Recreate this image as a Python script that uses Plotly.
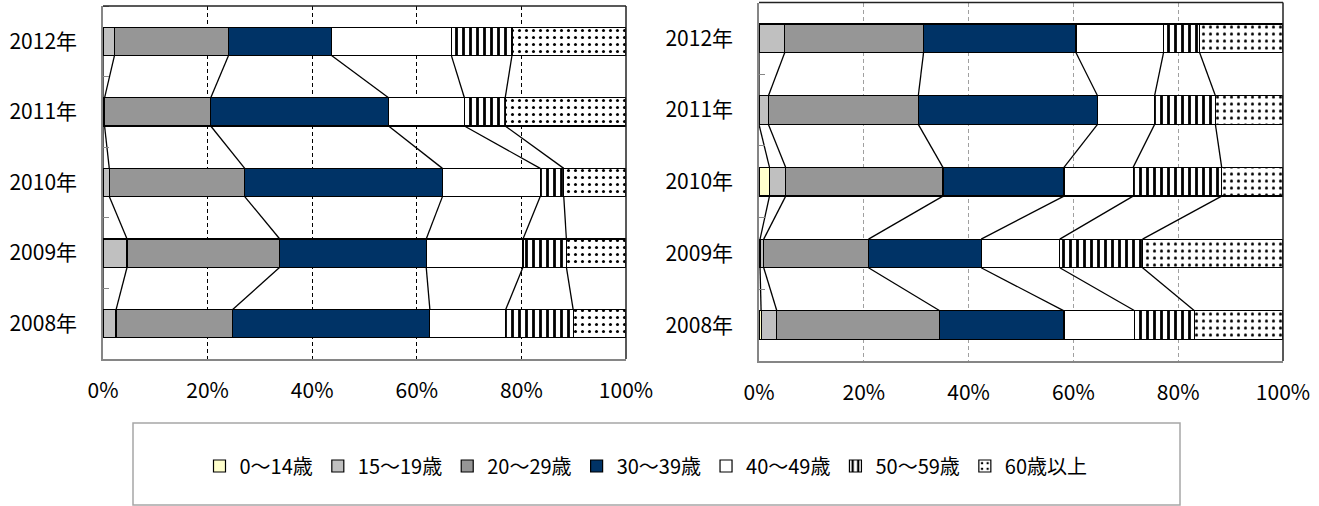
import plotly.graph_objects as go

W, H = 1319, 506

years = ["2008年", "2009年", "2010年", "2011年", "2012年"]
groups = ["0～14歳", "15～19歳", "20～29歳", "30～39歳", "40～49歳", "50～59歳", "60歳以上"]

# values per age group, listed 2008..2012 (percent)
left_0_14 = [0, 0, 0, 0, 0]
left_15_19 = [2.5, 4.6, 1.2, 0.3, 2.2]
left_20_29 = [22.3, 29.2, 25.9, 20.3, 21.8]
left_30_39 = [37.7, 28.0, 37.8, 34.0, 19.7]
left_40_49 = [14.5, 18.5, 18.7, 14.5, 22.9]
left_50_59 = [12.9, 8.3, 4.5, 7.8, 11.6]
left_60p = [10.1, 11.4, 11.9, 23.1, 21.8]

right_0_14 = [0.4, 0.2, 2.0, 0, 0]
right_15_19 = [3.0, 0.7, 3.1, 1.8, 4.9]
right_20_29 = [31.1, 20.0, 30.0, 28.6, 26.5]
right_30_39 = [23.7, 21.5, 23.1, 34.2, 29.1]
right_40_49 = [13.5, 15.0, 13.2, 10.9, 16.7]
right_50_59 = [11.4, 15.8, 16.9, 11.6, 6.9]
right_60p = [16.9, 26.8, 11.7, 12.9, 15.9]

x_ticks = [0, 20, 40, 60, 80, 100]
x_tick_labels = ["0%", "20%", "40%", "60%", "80%", "100%"]

left_series = [left_0_14, left_15_19, left_20_29, left_30_39, left_40_49, left_50_59, left_60p]
right_series = [right_0_14, right_15_19, right_20_29, right_30_39, right_40_49, right_50_59, right_60p]

colors = ["#FFFFCC", "#C0C0C0", "#969696", "#003366", "#FFFFFF", "#FFFFFF", "#FFFFFF"]
patterns = [None, None, None, None, None,
            dict(shape="|", fgcolor="black", bgcolor="white", size=7, solidity=0.4, fillmode="replace"),
            dict(shape=".", fgcolor="black", bgcolor="white", size=7, solidity=0.15, fillmode="replace")]

FONT = "Noto Sans CJK JP"
BAR_W = 0.4
ypos = list(range(len(years)))

fig = go.Figure()

def add_chart(series, xa, ya, show_legend):
    for gi, (name, vals) in enumerate(zip(groups, series)):
        marker = dict(color=colors[gi], line=dict(color="black", width=1.2))
        if patterns[gi] is not None:
            marker["pattern"] = patterns[gi]
        fig.add_trace(go.Bar(
            x=vals, y=ypos, orientation="h", name=name, width=BAR_W,
            marker=marker, xaxis=xa, yaxis=ya, showlegend=show_legend,
            legendgroup=name,
        ))
    # series (connector) lines between adjacent bars
    cums = []
    for yi in range(len(years)):
        c, acc = [], 0.0
        for s in series[:-1]:
            acc += s[yi]
            c.append(acc)
        cums.append(c)
    lx, ly = [], []
    for yi in range(len(years) - 1):
        for k in range(len(series) - 1):
            lx += [cums[yi][k], cums[yi + 1][k], None]
            ly += [yi + BAR_W / 2, yi + 1 - BAR_W / 2, None]
    fig.add_trace(go.Scatter(x=lx, y=ly, mode="lines", line=dict(color="black", width=1.3),
                             xaxis=xa, yaxis=ya, showlegend=False, hoverinfo="skip"))

add_chart(left_series, "x", "y", True)
add_chart(right_series, "x2", "y2", False)

def px_x(p):
    return p / W

def px_y(p):
    return 1 - p / H

xdom1 = [px_x(103), px_x(626)]
xdom2 = [px_x(759), px_x(1283)]
ydom1 = [px_y(359), px_y(6)]
ydom2 = [px_y(361), px_y(2.5)]

def xaxis_cfg(dom, gridcolor, anchor):
    return dict(domain=dom, range=[0, 100], tickvals=x_ticks, ticktext=x_tick_labels,
                showgrid=True, gridcolor=gridcolor, griddash="4px,3px", gridwidth=1,
                showline=True, linecolor="#868686", linewidth=1.5, zeroline=False,
                ticks="", ticklabelstandoff=12, anchor=anchor, automargin=False,
                tickfont=dict(family=FONT, size=21, color="black"), fixedrange=True)

def yaxis_cfg(dom, anchor):
    return dict(domain=dom, range=[-0.5, len(years) - 0.5], tickvals=ypos, ticktext=years,
                showgrid=False, zeroline=False, showline=True, linecolor="#868686", linewidth=1.5,
                ticks="", ticklabelstandoff=20, anchor=anchor, automargin=False,
                minor=dict(tick0=0.5, dtick=1, ticks="inside", ticklen=6, tickcolor="#868686", showgrid=False),
                tickfont=dict(family=FONT, size=21, color="black"), fixedrange=True)

shapes = []
for xa, ya in [("x", "y"), ("x2", "y2")]:
    shapes.append(dict(type="line", xref=xa + " domain", yref=ya + " domain", x0=0, x1=1, y0=1, y1=1,
                       line=dict(color="#222222", width=1.5)))
    shapes.append(dict(type="line", xref=xa + " domain", yref=ya + " domain", x0=1, x1=1, y0=0, y1=1,
                       line=dict(color="#222222", width=1.5)))
# legend frame
shapes.append(dict(type="rect", xref="paper", yref="paper", x0=px_x(133), x1=px_x(1180),
                   y0=px_y(505), y1=px_y(423), line=dict(color="#A6A6A6", width=1.5), fillcolor="rgba(0,0,0,0)"))

fig.update_layout(
    width=W, height=H, margin=dict(l=0, r=0, t=0, b=0, autoexpand=False),
    paper_bgcolor="white", plot_bgcolor="white",
    barmode="stack",
    xaxis=xaxis_cfg(xdom1, "black", "y"),
    yaxis=yaxis_cfg(ydom1, "x"),
    xaxis2=xaxis_cfg(xdom2, "#A0A0A0", "y2"),
    yaxis2=yaxis_cfg(ydom2, "x2"),
    shapes=shapes,
    showlegend=True,
    legend=dict(orientation="h", x=px_x(646), xanchor="center", y=px_y(466), yanchor="middle",
                font=dict(family=FONT, size=20, color="black"), traceorder="normal",
                itemwidth=30, bgcolor="rgba(0,0,0,0)", borderwidth=0),
    font=dict(family=FONT),
)

fig.write_html("out.html", config={"displayModeBar": False},
               post_script="document.body.style.margin='0';document.body.style.overflow='hidden';")
